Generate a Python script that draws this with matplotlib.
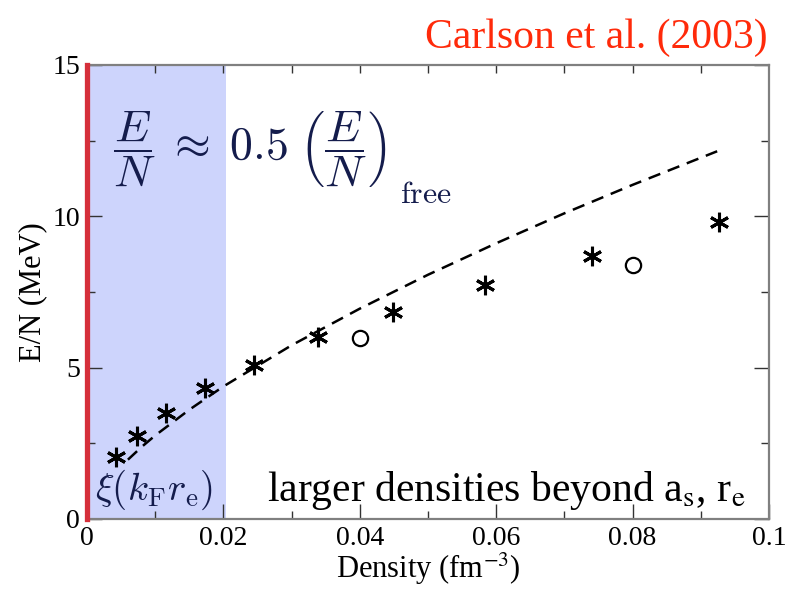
import numpy as np
import matplotlib
matplotlib.use("Agg")
from matplotlib import pyplot as plt

plt.rcParams['font.family'] = ['Liberation Serif', 'DejaVu Serif']
plt.rcParams['mathtext.fontset'] = 'stix'

# QMC points (asterisks) and the two circle points
density = [0.00425, 0.00733, 0.0116, 0.0173, 0.0245, 0.0338, 0.0449, 0.0584, 0.0740, 0.0927]
energy = [2.05, 2.74, 3.50, 4.33, 5.09, 6.01, 6.84, 7.73, 8.69, 9.81]
density_circ = [0.040, 0.080]
energy_circ = [5.98, 8.39]

# half of the free gas energy (dashed line)
free_density = [0.006, 0.008, 0.010, 0.015, 0.020, 0.030, 0.040, 0.050, 0.060, 0.070, 0.080, 0.0924]
free_half = [1.96, 2.38, 2.76, 3.61, 4.38, 5.74, 6.95, 8.07, 9.11, 10.10, 11.04, 12.15]

shade_edge = 0.0204

navy = '#141c4c'
gray = '#808080'

fig = plt.figure(figsize=(7.86, 5.92), dpi=100)
ax = fig.add_axes([87/786, 1-519/592, (769-87)/786, (519-65)/592])

ax.axvspan(0, shade_edge, color='#cdd4fc', lw=0, zorder=0)
ax.plot(free_density, free_half, color='black', lw=1.8, dashes=(5, 3.2), zorder=2)
ax.plot(density, energy, ls='none', marker=(6, 2, 0), ms=14, mew=2.2,
        color='black', zorder=3)
ax.plot(density_circ, energy_circ, ls='none', marker='o', ms=11, mew=1.6,
        mfc='none', mec='black', zorder=3)

ax.set_xlim(0, 0.1)
ax.set_ylim(0, 15)
ax.set_xticks([0, 0.02, 0.04, 0.06, 0.08, 0.1])
ax.set_xticklabels(['0', '0.02', '0.04', '0.06', '0.08', '0.1'])
ax.set_xticks(np.arange(0.01, 0.1, 0.02), minor=True)
ax.set_yticks([0, 5, 10, 15])
ax.set_yticks([2.5, 7.5, 12.5], minor=True)

ax.tick_params(which='both', direction='in', right=True, top=False,
               color='#333333', width=1.0, labelsize=20, pad=5)
ax.tick_params(which='major', length=11)
ax.tick_params(which='minor', length=6)

# short ticks along the top edge
top = ax.secondary_xaxis('top')
top.set_xticks(np.arange(0.01, 0.1, 0.01))
top.tick_params(direction='in', length=6, width=1.0, color='#333333', labeltop=False)
top.spines['top'].set_visible(False)

for side in ['top', 'right', 'bottom']:
    ax.spines[side].set_color(gray)
    ax.spines[side].set_linewidth(1.6)
ax.spines['left'].set_color('#d52f3a')
ax.spines['left'].set_linewidth(3.8)
ax.spines['left'].set_zorder(5)

ax.set_xlabel(r'Density (fm$^{-3}$)', fontsize=22, labelpad=0)
ax.set_ylabel('E/N (MeV)', fontsize=22, labelpad=4)

fig.text(768/786, 1-48/592, 'Carlson et al. (2003)', color='#ff2a0a',
         fontsize=30, ha='right', va='baseline')

ax.text(0.0038, 12.2,
        r'$\dfrac{E}{N} \;\approx\; 0.5\;\left(\dfrac{E}{N}\right)$',
        math_fontfamily='cm', fontsize=33, color=navy, ha='left', va='center')
ax.text(0.0459, 10.45, r'$\rm free$', math_fontfamily='cm', fontsize=23,
        color=navy, ha='left', va='baseline')
ax.text(0.0011, 0.95, r'$\xi(k_{\rm F} r_{\rm e})$', math_fontfamily='cm',
        fontsize=28, color=navy, ha='left', va='center')
ax.text(0.0966, 0.6, r'larger densities beyond a$_{\rm s}$, r$_{\rm e}$',
        fontsize=30, color='black', ha='right', va='baseline')

fig.savefig('out.png', dpi=100)
